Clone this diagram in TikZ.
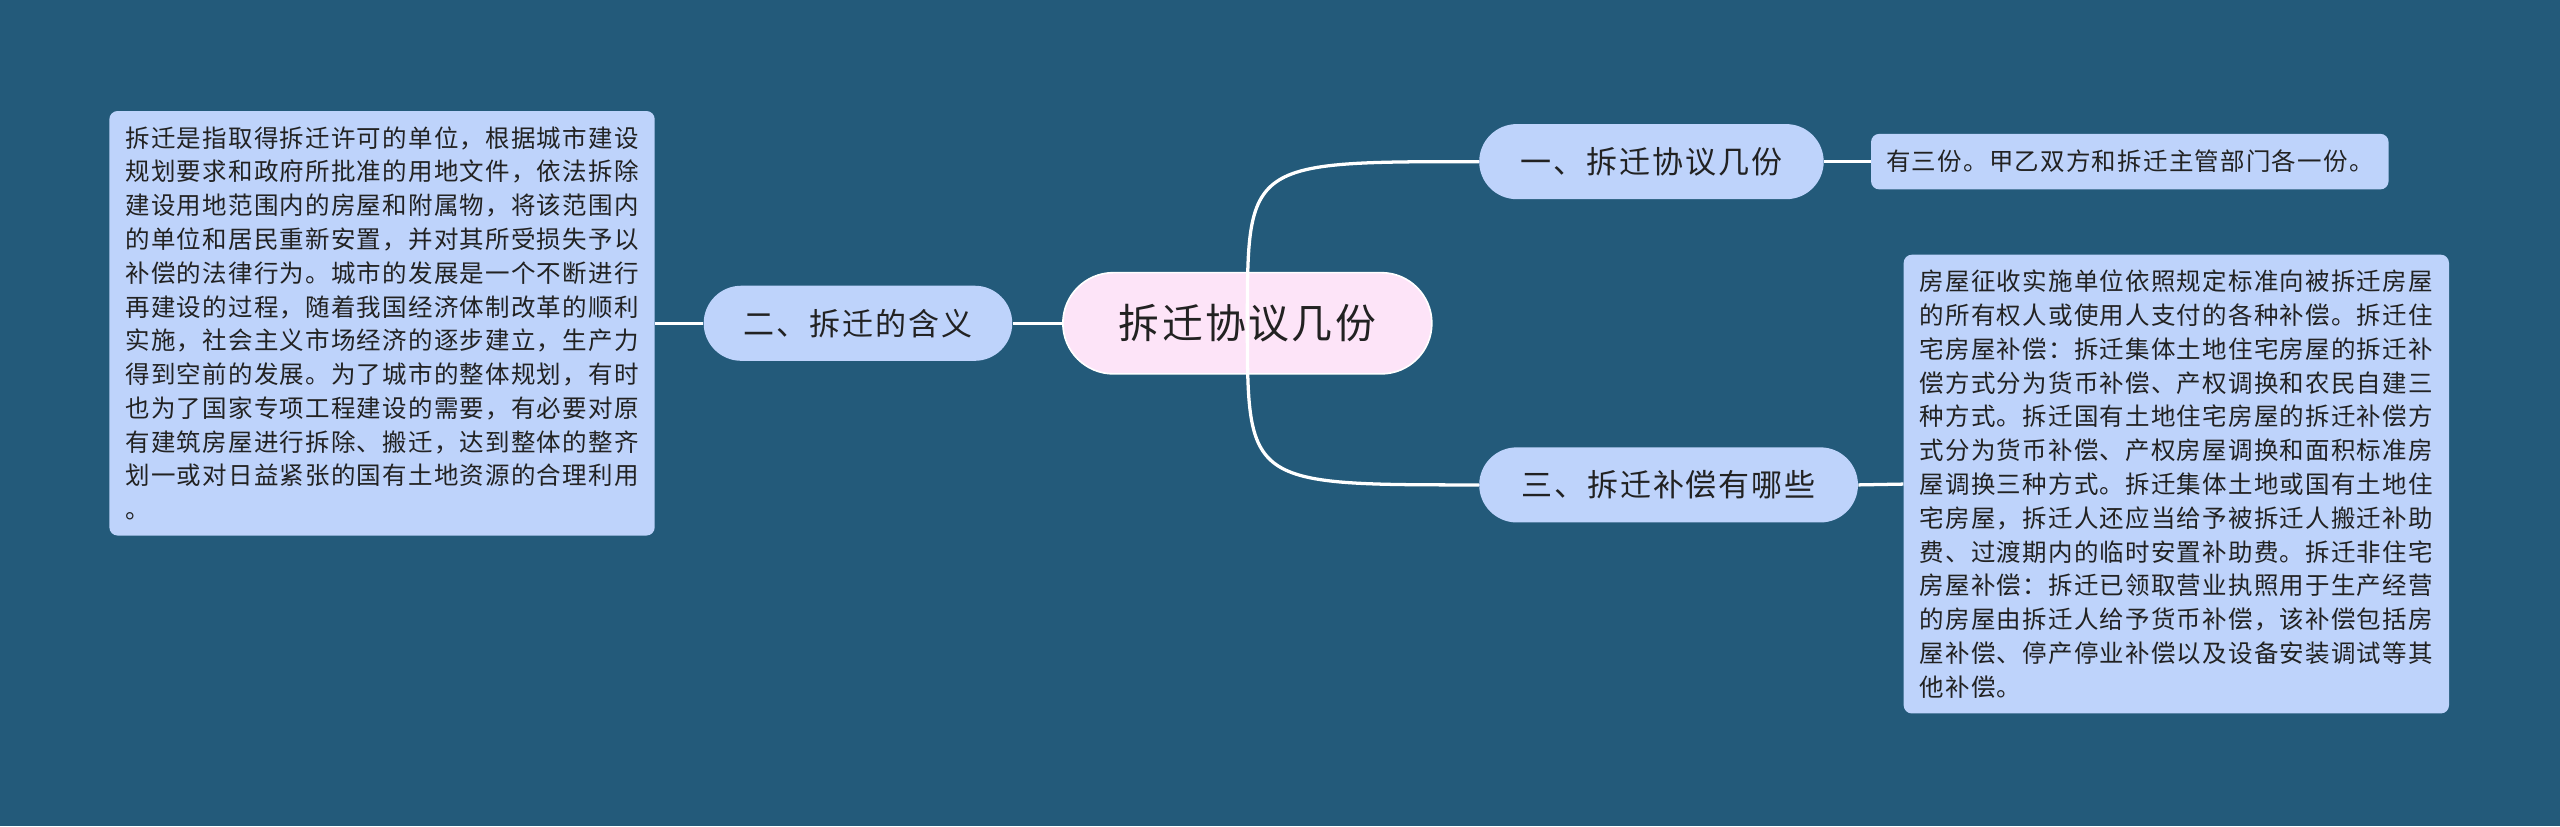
\documentclass[tikz,border=0pt]{standalone}
\usepackage{fontspec}
\setmainfont{Noto Sans CJK SC}
\usetikzlibrary{positioning}
\definecolor{bgblue}{HTML}{235A7A}
\definecolor{topicblue}{HTML}{BED3FB}
\definecolor{rootpink}{HTML}{FDE4F8}
\definecolor{inkgray}{HTML}{222222}
\begin{document}
\begin{tikzpicture}[x=1pt,y=-1pt,
  root/.style={fill=rootpink,draw=white,line width=1pt,rounded corners=31pt,minimum width=226pt,minimum height=62pt,text=inkgray,font=\fontsize{25}{29}\selectfont\addfontfeature{LetterSpace=6}},
  topic/.style={fill=topicblue,rounded corners=23pt,minimum height=46pt,text=inkgray,font=\fontsize{19}{23}\selectfont\addfontfeature{LetterSpace=6}},
  leaf/.style={fill=topicblue,rounded corners=5pt,align=left,inner sep=0pt,text=inkgray,font=\fontsize{15}{20.7}\selectfont\addfontfeature{LetterSpace=5}},
  link/.style={white,line width=2pt}]
\fill[bgblue] (0,0) rectangle (1568,506);
\useasboundingbox (0,0) rectangle (1568,506);
\node[root] (root) at (764,198) {拆迁协议几份};
\node[topic,minimum width=189pt] (meaning) at (525.5,198) {二、拆迁的含义};
\node[topic,minimum width=211pt] (copies) at (1011.5,99) {一、拆迁协议几份};
\node[topic,minimum width=232pt] (comp) at (1022,297) {三、拆迁补偿有哪些};
\node[leaf,minimum width=334pt,minimum height=260pt] (meaningtxt) at (234,198) {拆迁是指取得拆迁许可的单位，根据城市建设\\规划要求和政府所批准的用地文件，依法拆除\\建设用地范围内的房屋和附属物，将该范围内\\的单位和居民重新安置，并对其所受损失予以\\补偿的法律行为。城市的发展是一个不断进行\\再建设的过程，随着我国经济体制改革的顺利\\实施，社会主义市场经济的逐步建立，生产力\\得到空前的发展。为了城市的整体规划，有时\\也为了国家专项工程建设的需要，有必要对原\\有建筑房屋进行拆除、搬迁，达到整体的整齐\\划一或对日益紧张的国有土地资源的合理利用\\。};
\node[leaf,minimum width=317pt,minimum height=34pt] (copiestxt) at (1304.5,99) {有三份。甲乙双方和拆迁主管部门各一份。};
\node[leaf,minimum width=334pt,minimum height=281pt] (comptxt) at (1333,296.5) {房屋征收实施单位依照规定标准向被拆迁房屋\\的所有权人或使用人支付的各种补偿。拆迁住\\宅房屋补偿：拆迁集体土地住宅房屋的拆迁补\\偿方式分为货币补偿、产权调换和农民自建三\\种方式。拆迁国有土地住宅房屋的拆迁补偿方\\式分为货币补偿、产权房屋调换和面积标准房\\屋调换三种方式。拆迁集体土地或国有土地住\\宅房屋，拆迁人还应当给予被拆迁人搬迁补助\\费、过渡期内的临时安置补助费。拆迁非住宅\\房屋补偿：拆迁已领取营业执照用于生产经营\\的房屋由拆迁人给予货币补偿，该补偿包括房\\屋补偿、停产停业补偿以及设备安装调试等其\\他补偿。};
\foreach \from/\to in {meaning.east/root.west,meaning.west/meaningtxt.east,copies.east/copiestxt.west,comp.east/comptxt.west}
  \draw[link] (\from)--(\to);
\draw[link] (root.center) .. controls (root.center |- copies.west) .. (copies.west);
\draw[link] (root.center) .. controls (root.center |- comp.west) .. (comp.west);
\end{tikzpicture}
\end{document}
